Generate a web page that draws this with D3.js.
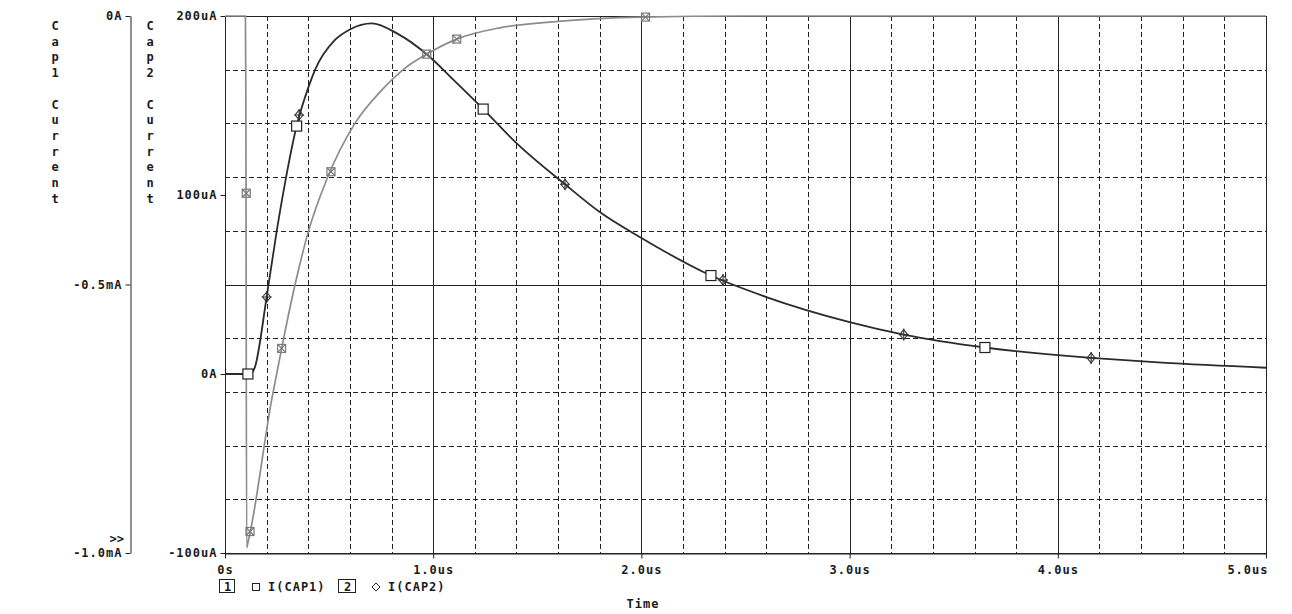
<!DOCTYPE html>
<html>
<head>
<meta charset="utf-8">
<script src="https://cdn.jsdelivr.net/npm/d3@7/dist/d3.min.js"></script>
<style>
  html, body { margin: 0; padding: 0; background: #fff; }
  svg text {
    font-family: "DejaVu Sans Mono", monospace;
    font-weight: bold;
    font-size: 12px;
    letter-spacing: 1px;
    fill: #1a1a1a;
  }
</style>
</head>
<body>
<div id="chart"></div>
<script>
// I(CAP2) - dark trace, axis 2 (uA)
const cap2Time = [0, 0.12, 0.144, 0.2, 0.248, 0.288, 0.344, 0.4, 0.432, 0.528, 0.6, 0.705,
  0.83, 0.969, 1.1, 1.24, 1.4, 1.633, 1.8, 2.0, 2.334, 2.6, 3.0, 3.26, 3.65, 4.0, 4.16, 4.5, 5.0];
const cap2Value = [0, 0, 4, 43, 79.5, 106.5, 138.5, 160, 169.8, 186.6, 192.5, 195.9,
  190, 178.6, 164, 148, 129, 106, 90.5, 76, 55, 43, 29, 22, 14.8, 10.5, 9, 6.3, 3.5];

// I(CAP1) - gray trace, axis 1 (mA)
const cap1Time = [0, 0.098, 0.1, 0.104, 0.11, 0.224, 0.272, 0.336, 0.4, 0.488, 0.624,
  0.753, 0.865, 0.969, 1.113, 1.32, 1.6, 2.0, 2.5, 5.0];
const cap1Value = [0, 0, -0.133, -0.99, -0.981, -0.715, -0.619, -0.501, -0.402, -0.305, -0.2,
  -0.138, -0.097, -0.071, -0.043, -0.022, -0.010, -0.002, 0, 0];

// marker positions
const cap2SquareTime = [0.11, 0.344, 1.24, 2.334, 3.65];
const cap2SquareValue = [0, 138.5, 148, 55, 14.8];
const cap2DiamondTime = [0.2, 0.356, 1.633, 2.392, 3.26, 4.16];
const cap2DiamondValue = [43, 144.7, 106, 52.5, 22, 9];
const cap1MarkTime = [0.102, 0.12, 0.272, 0.509, 0.969, 1.113, 2.02];
const cap1MarkValue = [-0.33, -0.96, -0.619, -0.29, -0.071, -0.043, -0.002];

// axes
const xTicks = [0, 1, 2, 3, 4, 5];
const xLabels = ['0s', '1.0us', '2.0us', '3.0us', '4.0us', '5.0us'];
const axis1Ticks = [0, -0.5, -1.0];
const axis1Labels = ['0A', '-0.5mA', '-1.0mA'];
const axis2Ticks = [200, 100, 0, -100];
const axis2Labels = ['200uA', '100uA', '0A', '-100uA'];
const axis1Title = 'Cap1 Current';
const axis2Title = 'Cap2 Current';

const W = 1292, H = 614;
const plotL = 225, plotR = 1266, plotT = 16, plotB = 553;
const axis1X = 130;

const svg = d3.select('#chart').append('svg')
  .attr('width', W).attr('height', H)
  .attr('viewBox', [0, 0, W, H]);

const x = d3.scaleLinear().domain([0, 5]).range([plotL, plotR]);
const y1 = d3.scaleLinear().domain([-1, 0]).range([plotB, plotT]);
const y2 = d3.scaleLinear().domain([-100, 200]).range([plotB, plotT]);

// grid
const grid = svg.append('g').attr('stroke', '#222').attr('stroke-width', 1).attr('shape-rendering', 'crispEdges');
d3.range(1, 25).map(i => i * 0.2).forEach(t => {
  const major = Math.abs(t - Math.round(t)) < 1e-6;
  grid.append('line')
    .attr('x1', Math.round(x(t)) + 0.5).attr('x2', Math.round(x(t)) + 0.5)
    .attr('y1', plotT).attr('y2', plotB)
    .attr('stroke-dasharray', major ? null : '5,3');
});
d3.range(1, 10).map(i => -i * 0.1).forEach(v => {
  const major = Math.abs(v + 0.5) < 1e-6;
  grid.append('line')
    .attr('x1', plotL).attr('x2', plotR)
    .attr('y1', Math.round(y1(v)) + 0.5).attr('y2', Math.round(y1(v)) + 0.5)
    .attr('stroke-dasharray', major ? null : '5,3');
});

// frame
svg.append('rect')
  .attr('x', plotL + 0.5).attr('y', plotT + 0.5)
  .attr('width', plotR - plotL).attr('height', plotB - plotT)
  .attr('fill', 'none').attr('stroke', '#222').attr('shape-rendering', 'crispEdges');

// axis 1
const ax1 = svg.append('g').attr('transform', `translate(${axis1X + 0.5},0)`)
  .call(d3.axisLeft(y1).tickValues(axis1Ticks).tickFormat((d, i) => axis1Labels[i])
    .tickSize(5).tickSizeOuter(0).tickPadding(3));
// axis 2
const ax2 = svg.append('g').attr('transform', `translate(${plotL + 0.5},0)`)
  .call(d3.axisLeft(y2).tickValues(axis2Ticks).tickFormat((d, i) => axis2Labels[i])
    .tickSize(5).tickSizeOuter(0).tickPadding(3));
// x axis
const axX = svg.append('g').attr('transform', `translate(0,${plotB + 0.5})`)
  .call(d3.axisBottom(x).tickValues(xTicks).tickFormat((d, i) => xLabels[i])
    .tickSize(5).tickSizeOuter(0).tickPadding(7));
axX.selectAll('.tick').filter(d => d === 5).select('text')
  .attr('text-anchor', 'end').attr('x', 2);

[ax1, ax2, axX].forEach(a => {
  a.attr('font-family', null).attr('font-size', null);
  a.select('.domain').attr('stroke', '#222');
  a.selectAll('.tick line').attr('stroke', '#222');
  a.selectAll('text').attr('fill', '#1a1a1a');
});
ax2.select('.domain').remove();

// stacked axis titles
function stackedTitle(label, cx) {
  svg.append('g').selectAll('text')
    .data(label.split(''))
    .join('text')
    .attr('x', cx).attr('y', (d, i) => 30 + i * 15.7)
    .attr('text-anchor', 'middle')
    .style('letter-spacing', '0px')
    .text(d => d);
}
stackedTitle(axis1Title, 55);
stackedTitle(axis2Title, 150);

svg.append('text').attr('x', 124).attr('y', 543).attr('text-anchor', 'end')
  .style('letter-spacing', '0px').text('>>');

// traces
const line2 = d3.line().x(i => x(cap2Time[i])).y(i => y2(cap2Value[i])).curve(d3.curveMonotoneX);
const line1 = d3.line().x(i => x(cap1Time[i])).y(i => y1(cap1Value[i])).curve(d3.curveMonotoneX);

svg.append('path')
  .attr('d', line1(d3.range(cap1Time.length)))
  .attr('fill', 'none').attr('stroke', '#8c8c8c').attr('stroke-width', 1.7);

svg.append('path')
  .attr('d', line2(d3.range(cap2Time.length)))
  .attr('fill', 'none').attr('stroke', '#2b2b2b').attr('stroke-width', 1.8);

// markers
const marks = svg.append('g');
cap1MarkTime.forEach((t, i) => {
  const g = marks.append('g').attr('transform', `translate(${x(t)},${y1(cap1MarkValue[i])})`)
    .attr('fill', 'none').attr('stroke', '#7a7a7a').attr('stroke-width', 1.2);
  g.append('rect').attr('x', -4).attr('y', -4).attr('width', 8).attr('height', 8);
  g.append('path').attr('d', 'M-4,-4L4,4M-4,4L4,-4');
});
cap2SquareTime.forEach((t, i) => {
  marks.append('rect')
    .attr('x', x(t) - 5).attr('y', y2(cap2SquareValue[i]) - 5)
    .attr('width', 10).attr('height', 10)
    .attr('fill', '#fff').attr('stroke', '#222').attr('stroke-width', 1.2);
});
cap2DiamondTime.forEach((t, i) => {
  const g = marks.append('g').attr('transform', `translate(${x(t)},${y2(cap2DiamondValue[i])})`)
    .attr('fill', 'none').attr('stroke', '#333').attr('stroke-width', 1.1);
  g.append('path').attr('d', 'M0,-5L4,0L0,5L-4,0Z');
  g.append('path').attr('d', 'M0,-6V6M-5,0H5');
});

// legend
const legend = svg.append('g');
legend.append('rect').attr('x', 219.5).attr('y', 579.5).attr('width', 15).attr('height', 13)
  .attr('fill', 'none').attr('stroke', '#222');
legend.append('text').attr('x', 227.5).attr('y', 590.5).attr('text-anchor', 'middle')
  .style('letter-spacing', '0px').text('1');
legend.append('rect').attr('x', 252.5).attr('y', 583.5).attr('width', 7).attr('height', 7)
  .attr('fill', 'none').attr('stroke', '#222');
legend.append('text').attr('x', 268).attr('y', 590.5).text('I(CAP1)');
legend.append('rect').attr('x', 338.5).attr('y', 579.5).attr('width', 17).attr('height', 13)
  .attr('fill', 'none').attr('stroke', '#222');
legend.append('text').attr('x', 347.5).attr('y', 590.5).attr('text-anchor', 'middle')
  .style('letter-spacing', '0px').text('2');
legend.append('path').attr('d', 'M376,583L380,587L376,591L372,587Z')
  .attr('fill', 'none').attr('stroke', '#222');
legend.append('text').attr('x', 388).attr('y', 590.5).text('I(CAP2)');

svg.append('text').attr('x', 643).attr('y', 608).attr('text-anchor', 'middle').text('Time');
</script>
</body>
</html>
